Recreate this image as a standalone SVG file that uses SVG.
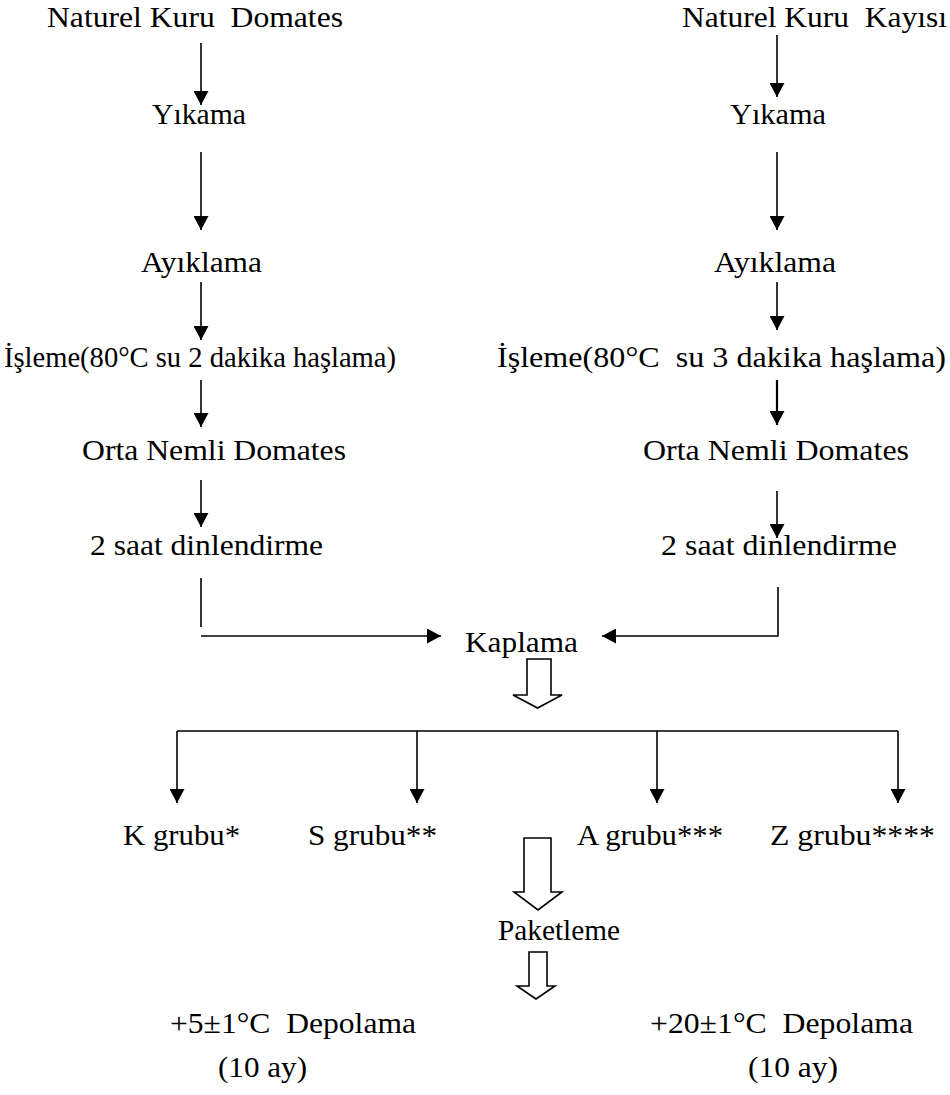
<svg xmlns="http://www.w3.org/2000/svg" width="950" height="1095" viewBox="0 0 950 1095">
<style>
.t{font-family:'Liberation Serif','Times New Roman',Times,'DejaVu Serif','Noto Serif',serif;font-size:30px;fill:#000}
.ln{stroke:#000;stroke-width:1.6;fill:none}
.hl{stroke:#000;stroke-width:1.6;fill:#fff;stroke-linejoin:miter}
</style>
<defs>
<marker id="ah" markerWidth="14" markerHeight="15" refX="14" refY="7.5" orient="auto" markerUnits="userSpaceOnUse" viewBox="0 0 14 15">
<path d="M0,0 L14,7.5 L0,15 Z" fill="#000"/>
</marker>
</defs>
<rect width="950" height="1095" fill="#fff"/>
<g class="t" lengthAdjust="spacingAndGlyphs">
<g id="n-domates"><text class="t" x="47" y="27" xml:space="preserve" textLength="296" lengthAdjust="spacingAndGlyphs">Naturel Kuru  Domates</text></g>
<g id="n-kayisi"><text class="t" x="682" y="27" xml:space="preserve" textLength="265" lengthAdjust="spacingAndGlyphs">Naturel Kuru  Kayısı</text></g>
<g id="n-yikama-l"><text class="t" x="152" y="124" textLength="94" lengthAdjust="spacingAndGlyphs">Yıkama</text></g>
<g id="n-yikama-r"><text class="t" x="730" y="124" textLength="96" lengthAdjust="spacingAndGlyphs">Yıkama</text></g>
<g id="n-ayiklama-l"><text class="t" x="141" y="272" textLength="121" lengthAdjust="spacingAndGlyphs">Ayıklama</text></g>
<g id="n-ayiklama-r"><text class="t" x="714" y="272" textLength="122" lengthAdjust="spacingAndGlyphs">Ayıklama</text></g>
<g id="n-isleme-l"><text class="t" x="4" y="367" textLength="392" lengthAdjust="spacingAndGlyphs">İşleme(80°C su 2 dakika haşlama)</text></g>
<g id="n-isleme-r"><text class="t" x="497" y="367" xml:space="preserve" textLength="449" lengthAdjust="spacingAndGlyphs">İşleme(80°C  su 3 dakika haşlama)</text></g>
<g id="n-orta-l"><text class="t" x="82" y="460" textLength="264" lengthAdjust="spacingAndGlyphs">Orta Nemli Domates</text></g>
<g id="n-orta-r"><text class="t" x="643" y="460" textLength="266" lengthAdjust="spacingAndGlyphs">Orta Nemli Domates</text></g>
<g id="n-dinlen-l"><text class="t" x="90" y="555" textLength="233" lengthAdjust="spacingAndGlyphs">2 saat dinlendirme</text></g>
<g id="n-dinlen-r"><text class="t" x="661" y="555" textLength="236" lengthAdjust="spacingAndGlyphs">2 saat dinlendirme</text></g>
<g id="n-kaplama"><text class="t" x="465" y="652" textLength="113" lengthAdjust="spacingAndGlyphs">Kaplama</text></g>
<g id="n-k"><text class="t" x="123" y="845" textLength="117" lengthAdjust="spacingAndGlyphs">K grubu*</text></g>
<g id="n-s"><text class="t" x="308" y="845" textLength="129" lengthAdjust="spacingAndGlyphs">S grubu**</text></g>
<g id="n-a"><text class="t" x="577" y="845" textLength="146" lengthAdjust="spacingAndGlyphs">A grubu***</text></g>
<g id="n-z"><text class="t" x="770" y="845" textLength="165" lengthAdjust="spacingAndGlyphs">Z grubu****</text></g>
<g id="n-paket"><text class="t" x="498" y="940" textLength="122" lengthAdjust="spacingAndGlyphs">Paketleme</text></g>
<g id="n-depo5"><text class="t" x="170" y="1033" xml:space="preserve" textLength="246" lengthAdjust="spacingAndGlyphs">+5±1°C  Depolama</text><text class="t" x="218" y="1077" textLength="89" lengthAdjust="spacingAndGlyphs">(10 ay)</text></g>
<g id="n-depo20"><text class="t" x="650" y="1033" xml:space="preserve" textLength="263" lengthAdjust="spacingAndGlyphs">+20±1°C  Depolama</text><text class="t" x="748" y="1077" textLength="90" lengthAdjust="spacingAndGlyphs">(10 ay)</text></g>
</g>
<g id="connectors">
<line class="ln" x1="201" y1="43" x2="201" y2="105" marker-end="url(#ah)"/>
<line class="ln" x1="201" y1="152" x2="201" y2="230" marker-end="url(#ah)"/>
<line class="ln" x1="201" y1="282" x2="201" y2="340" marker-end="url(#ah)"/>
<line class="ln" x1="201" y1="380" x2="201" y2="427" marker-end="url(#ah)"/>
<line class="ln" x1="201" y1="480" x2="201" y2="527" marker-end="url(#ah)"/>
<line class="ln" x1="201" y1="578" x2="201" y2="627"/>
<line class="ln" x1="201" y1="636" x2="441" y2="636" marker-end="url(#ah)"/>
<line class="ln" x1="777" y1="35" x2="777" y2="97" marker-end="url(#ah)"/>
<line class="ln" x1="777" y1="152" x2="777" y2="230" marker-end="url(#ah)"/>
<line class="ln" x1="777" y1="282" x2="777" y2="330" marker-end="url(#ah)"/>
<line class="ln" x1="777" y1="380" x2="777" y2="425" marker-end="url(#ah)" style="stroke-width:2.2"/>
<line class="ln" x1="777" y1="491" x2="777" y2="538" marker-end="url(#ah)"/>
<polyline class="ln" points="778,587 778,636 602,636" marker-end="url(#ah)"/>
<line class="ln" x1="177" y1="731" x2="898" y2="731"/>
<line class="ln" x1="177" y1="731" x2="177" y2="803" marker-end="url(#ah)"/>
<line class="ln" x1="417" y1="731" x2="417" y2="803" marker-end="url(#ah)"/>
<line class="ln" x1="657" y1="731" x2="657" y2="803" marker-end="url(#ah)"/>
<line class="ln" x1="898" y1="731" x2="898" y2="803" marker-end="url(#ah)"/>
<path class="hl" d="M527,659 L551,659 L551,695 L562,695 L537.5,708 L513,695 L527,695 Z"/>
<path class="hl" d="M524,838 L551,838 L551,892 L562,892 L538,910 L514,892 L524,892 Z"/>
<path class="hl" d="M529,952 L547,952 L547,986 L555,986 L536,999 L517,986 L529,986 Z"/>
</g>
</svg>
